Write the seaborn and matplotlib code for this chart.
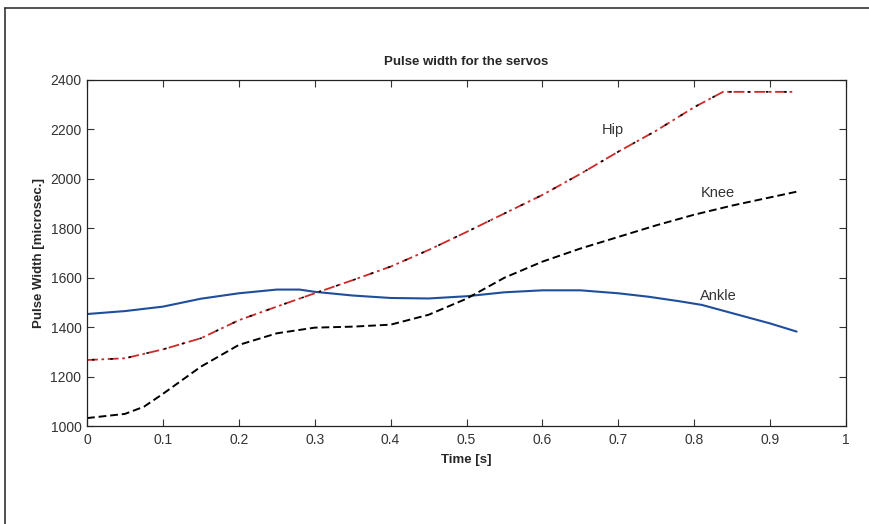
import seaborn as sns
import pandas as pd
import matplotlib.pyplot as plt
from matplotlib.lines import Line2D

# values
time_ankle = [0, 0.05, 0.1, 0.15, 0.2, 0.25, 0.28, 0.3, 0.35, 0.4, 0.45, 0.5, 0.55, 0.6, 0.65, 0.7, 0.74, 0.78, 0.81, 0.84, 0.87, 0.9, 0.935]
ankle = [1453, 1465, 1483, 1515, 1537, 1552, 1552, 1543, 1528, 1518, 1516, 1525, 1541, 1549, 1549, 1537, 1523, 1505, 1490, 1465, 1440, 1415, 1382]

time_hip = [0, 0.05, 0.1, 0.15, 0.2, 0.25, 0.3, 0.35, 0.4, 0.45, 0.5, 0.55, 0.6, 0.65, 0.7, 0.75, 0.8, 0.838, 0.9, 0.93]
hip = [1267, 1274, 1310, 1355, 1428, 1483, 1537, 1590, 1645, 1712, 1785, 1860, 1935, 2020, 2110, 2195, 2290, 2352, 2352, 2352]

time_knee = [0, 0.05, 0.075, 0.1, 0.15, 0.2, 0.25, 0.3, 0.35, 0.4, 0.45, 0.5, 0.55, 0.6, 0.65, 0.7, 0.75, 0.8, 0.85, 0.9, 0.935]
knee = [1032, 1049, 1078, 1130, 1240, 1328, 1375, 1398, 1402, 1410, 1450, 1515, 1600, 1665, 1718, 1765, 1812, 1855, 1892, 1925, 1948]

labels = ["Hip", "Knee", "Ankle"]
label_x = [0.678, 0.808, 0.808]
label_y = [2198, 1943, 1526]

df_ankle = pd.DataFrame({"t": time_ankle, "pw": ankle})
df_hip = pd.DataFrame({"t": time_hip, "pw": hip})
df_knee = pd.DataFrame({"t": time_knee, "pw": knee})

sns.set_style("ticks")
plt.rcParams['font.family'] = ['Liberation Sans Narrow', 'Liberation Sans', 'DejaVu Sans']

fig = plt.figure(figsize=(8.69, 5.24), dpi=100)
fig.patch.set_facecolor("white")
ax = fig.add_axes([87 / 869, 1 - 426 / 524, (846 - 87) / 869, (426 - 80) / 524])

sns.lineplot(data=df_ankle, x="t", y="pw", ax=ax, color="#1f4e9c", linewidth=1.5,
             estimator=None, sort=False)
sns.lineplot(data=df_hip, x="t", y="pw", ax=ax, color="#cc2a2a", linewidth=1.3,
             linestyle=(0, (6, 2, 1.5, 2)), estimator=None, sort=False)
sns.lineplot(data=df_hip, x="t", y="pw", ax=ax, color="black", linewidth=1.2,
             linestyle=(8, (1.5, 9.5)), estimator=None, sort=False)
sns.lineplot(data=df_knee, x="t", y="pw", ax=ax, color="black", linewidth=1.4,
             linestyle=(0, (4, 2)), estimator=None, sort=False)

for name, lx, ly in zip(labels, label_x, label_y):
    ax.text(lx, ly, name, fontsize=10.5, color="#333333", va="center")

ax.set_xlim(0, 1)
ax.set_ylim(1000, 2400)
ax.set_xticks([i / 10 for i in range(11)])
ax.set_xticklabels(["0", "0.1", "0.2", "0.3", "0.4", "0.5", "0.6", "0.7", "0.8", "0.9", "1"])
ax.set_yticks(range(1000, 2401, 200))
ax.tick_params(direction="in", top=True, right=True, length=5, labelsize=10, pad=4,
               colors="#333333")
ax.tick_params(axis="x", pad=5)
for s in ax.spines.values():
    s.set_color("#222222")
    s.set_linewidth(0.9)

ax.set_title("Pulse width for the servos", fontsize=9.5, fontweight="bold", pad=11)
ax.set_xlabel("Time [s]", fontsize=9.5, fontweight="bold", labelpad=5)
ax.set_ylabel("Pulse Width [microsec.]", fontsize=9.5, fontweight="bold", labelpad=4)

# outer frame of the original figure window (top and left edges visible)
fig.add_artist(Line2D([5 / 869, 1], [1 - 8 / 524, 1 - 8 / 524], color="#333333", linewidth=1.2))
fig.add_artist(Line2D([5 / 869, 5 / 869], [0, 1 - 8 / 524], color="#333333", linewidth=1.2))

plt.savefig("out.png", dpi=100)
